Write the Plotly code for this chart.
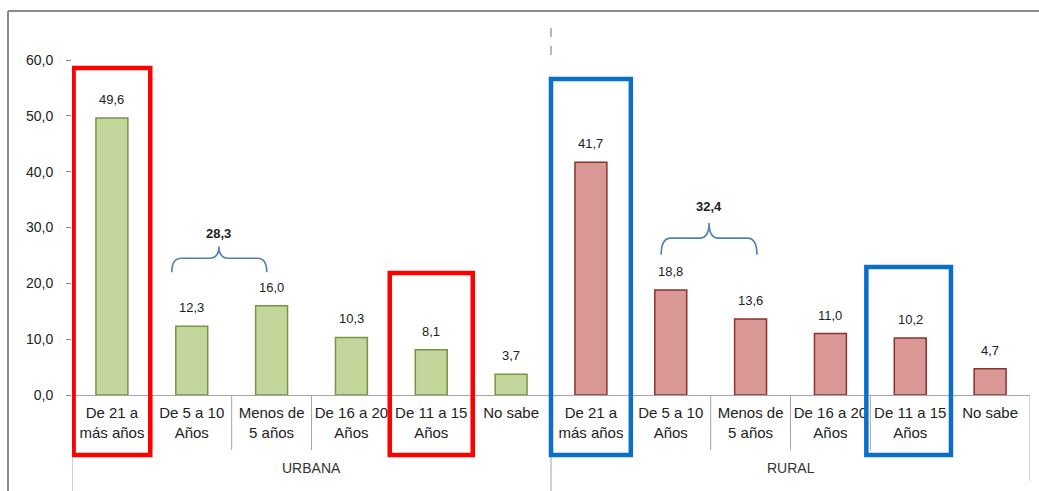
import plotly.graph_objects as go

# ---- data ----
groups = ["URBANA", "RURAL"]
categories = [
    "De 21 a<br>más años",
    "De 5 a 10<br>Años",
    "Menos de<br>5 años",
    "De 16 a 20<br>Años",
    "De 11 a 15<br>Años",
    "No sabe",
]
urbana = [49.6, 12.3, 16.0, 10.3, 8.1, 3.7]
rural = [41.7, 18.8, 13.6, 11.0, 10.2, 4.7]
y_ticks = [0, 10, 20, 30, 40, 50, 60]

# ---- layout geometry (pixels) ----
W_FIG, H_FIG = 1039, 491
L, R, T, B = 72, 1030, 60, 395
PW, PH = R - L, B - T


def py(p):
    return (B - p) / PH


def px(p):
    return (p - L) / PW


n = len(categories)
x_urb = list(range(n))
x_rur = [i + n for i in range(n)]

FONT = "Arial, Liberation Sans, sans-serif"
TXT = "#222222"

fig = go.Figure()
fig.add_trace(go.Bar(x=x_urb, y=urbana, width=0.4,
                     marker=dict(color="#c3d69b", line=dict(color="#7b9444", width=1.5)),
                     hoverinfo="y", showlegend=False))
fig.add_trace(go.Bar(x=x_rur, y=rural, width=0.4,
                     marker=dict(color="#d99795", line=dict(color="#8c3230", width=1.5)),
                     hoverinfo="y", showlegend=False))


def fmt(v):
    return f"{v:.1f}".replace(".", ",")


annotations = []
for xs, vals in ((x_urb, urbana), (x_rur, rural)):
    for x, v in zip(xs, vals):
        annotations.append(dict(x=x, y=v, text=fmt(v), showarrow=False, yanchor="bottom",
                                yshift=9, font=dict(family=FONT, size=13, color=TXT)))

# group labels
for gi, g in enumerate(groups):
    annotations.append(dict(x=gi * n + (n - 1) / 2, y=py(468), yref="paper", text=g,
                            yanchor="middle", showarrow=False,
                            font=dict(family=FONT, size=14, color="#333333")))

shapes = []
DIV = "#a6a6a6"
# category dividers
for gi in range(len(groups)):
    for i in range(n - 1):
        xd = gi * n + i + 0.5
        shapes.append(dict(type="line", xref="x", yref="paper", x0=xd, x1=xd,
                           y0=0, y1=py(450), line=dict(color=DIV, width=1)))
# group dividers
for gi in range(len(groups) + 1):
    xd = gi * n - 0.5
    shapes.append(dict(type="line", xref="x", yref="paper", x0=xd, x1=xd,
                       y0=0, y1=py(495 if gi < len(groups) else 481),
                       line=dict(color=DIV, width=1)))
# dashed separator at top
shapes.append(dict(type="line", xref="x", yref="paper", x0=n - 0.5, x1=n - 0.5,
                   y0=py(28), y1=py(64), line=dict(color="#888888", width=1.2, dash="dash")))

# outer frame (top and left edges)
FRAME = dict(color="#8a8a8a", width=2)
shapes.append(dict(type="line", xref="paper", yref="paper", x0=px(8), x1=px(1045),
                   y0=py(11), y1=py(11), line=FRAME))
shapes.append(dict(type="line", xref="paper", yref="paper", x0=px(8), x1=px(8),
                   y0=py(11), y1=py(495), line=FRAME))


# braces
def brace(x0, x1, xc, y_end, y_mid, y_top, color="#4f7fb5"):
    d = 0.12
    path = (f"M {x0},{y_end} Q {x0},{y_mid} {x0 + d},{y_mid} "
            f"L {xc - d},{y_mid} Q {xc},{y_mid} {xc},{y_top} "
            f"Q {xc},{y_mid} {xc + d},{y_mid} L {x1 - d},{y_mid} "
            f"Q {x1},{y_mid} {x1},{y_end}")
    return dict(type="path", xref="x", yref="y", path=path,
                line=dict(color=color, width=1.6))


shapes.append(brace(0.75, 1.94, 1.34, 22.0, 24.5, 26.6))
shapes.append(brace(6.88, 8.08, 7.48, 25.1, 28.1, 30.8))
annotations.append(dict(x=1.34, y=29.0, text="<b>" + fmt(urbana[1] + urbana[2]) + "</b>",
                        showarrow=False, font=dict(family=FONT, size=13, color=TXT)))
annotations.append(dict(x=7.48, y=33.8, text="<b>" + fmt(rural[1] + rural[2]) + "</b>",
                        showarrow=False, font=dict(family=FONT, size=13, color=TXT)))

# highlight rectangles
RED, BLUE = "#ff0000", "#0a6fc7"
for (x0, x1, top, col) in ((-0.48, 0.48, 68, RED), (3.48, 4.52, 273, RED),
                           (5.5, 6.5, 79, BLUE), (9.45, 10.51, 267, BLUE)):
    shapes.append(dict(type="rect", xref="x", yref="paper", x0=x0, x1=x1,
                       y0=py(455), y1=py(top), line=dict(color=col, width=4.5)))

fig.update_layout(
    width=W_FIG, height=H_FIG,
    margin=dict(l=L, r=W_FIG - R, t=T, b=H_FIG - B, pad=0),
    paper_bgcolor="white", plot_bgcolor="white",
    separators=",.",
    bargap=0.6,
    annotations=annotations,
    shapes=shapes,
    xaxis=dict(range=[-0.5, 2 * n - 0.5], tickmode="array",
               tickvals=x_urb + x_rur, ticktext=categories + categories,
               tickfont=dict(family=FONT, size=15, color=TXT),
               showgrid=False, zeroline=False, showline=True,
               linecolor=DIV, linewidth=1, ticks="", ticklabelstandoff=4),
    yaxis=dict(range=[0, 60], tickmode="array", tickvals=y_ticks, tickformat=".1f",
               tickfont=dict(family=FONT, size=14, color=TXT),
               showgrid=False, zeroline=False, showline=False,
               ticks="outside", ticklen=5, tickcolor="#888888", ticklabelstandoff=10),
)

fig.write_html("out.html")
